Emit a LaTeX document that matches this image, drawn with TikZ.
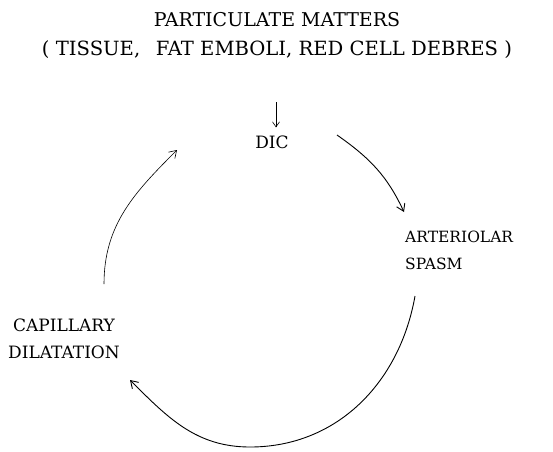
\documentclass[tikz,border=0pt]{standalone}
\usepackage{fontspec}
\setmainfont{DejaVu Serif}
\usetikzlibrary{arrows.meta,positioning}

\begin{document}
\begin{tikzpicture}[
  x=1pt,y=-1pt,
  every node/.style={font=\fontsize{15.5}{27}\selectfont,align=center,inner sep=1pt},
  title/.style={font=\fontsize{19}{20}\selectfont},
  big/.style={font=\fontsize{17}{27}\selectfont},
  arr/.style={-{Straight Barb[length=7pt,width=9pt]},line width=0.9pt},
  thinarr/.style={arr,line width=0.6pt},
]
\useasboundingbox (0,0) rectangle (553,451);

% Title
\node[title] (part) at (277,20) {PARTICULATE MATTERS};
\node[title,font=\fontsize{19.6}{20}\selectfont] (kinds) at (277,50) {( TISSUE,\hspace{0.8em}FAT EMBOLI, RED CELL DEBRES )};

% Cycle
\node[big] (dic) at (272,142) {DIC};
\node[align=left,anchor=west] (spasm) at (404,250) {ARTERIOLAR\\SPASM};
\node[big] (dil) at (64,339) {CAPILLARY\\DILATATION};

% arc ends
\coordinate (top) at (276,102);
\coordinate (a1s) at (337,135);
\coordinate (a1e) at (404,212);
\coordinate (a2s) at (415,296);
\coordinate (a2e) at (130,380);
\coordinate (a3s) at (104,284);
\coordinate (a3e) at (177,150);

% Arrows
\draw[thinarr,-{Straight Barb[length=5pt,width=7pt]},shorten >=7pt] (top) -- (top |- dic.north);
\draw[arr] (a1s) to[out=-35,in=115] (a1e);
\draw[arr] (a2s) to[out=-100,in=0] (250,447) to[out=180,in=-45] (a2e);
\draw[thinarr] (a3s) to[out=90,in=-135] (a3e);
\end{tikzpicture}
\end{document}
